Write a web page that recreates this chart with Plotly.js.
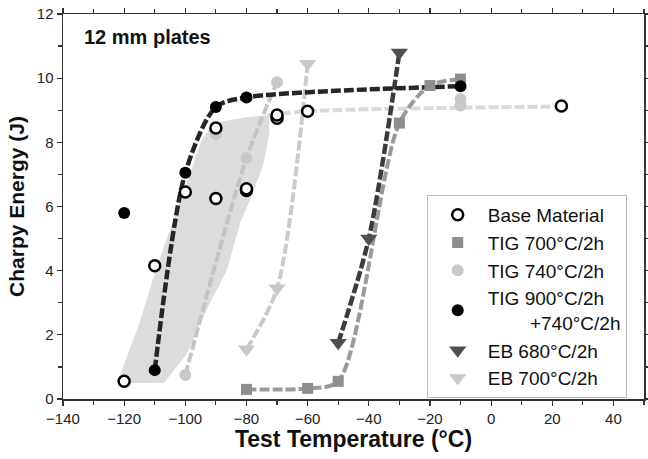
<!DOCTYPE html>
<html>
<head>
<meta charset="utf-8">
<script src="https://cdn.plot.ly/plotly-3.0.1.min.js"></script>
<style>html,body{margin:0;padding:0;background:#fff;}#chart{width:648px;height:459px;}</style>
</head>
<body>
<div id="chart"></div>
<script>
// ---- data ----
const baseX = [-120, -110, -100, -90, -90, -80, -80, -70, -70, -60, 23];
const baseY = [0.55, 4.15, 6.45, 8.45, 6.25, 6.5, 6.55, 8.75, 8.85, 8.97, 9.13];
const baseBandX = [-121, -107, -99.5, -93, -86.5, -82, -78, -74.5, -72.5, -72.5, -80, -91, -95, -99.6, -109.4, -114.9, -121.5];
const baseBandY = [0.5, 0.5, 1.4, 2.8, 4.0, 5.5, 6.4, 7.3, 8.3, 8.85, 8.78, 8.6, 8.0, 6.7, 4.1, 2.4, 0.7];
const baseShelfX = [-73, -60, 23];
const baseShelfY = [8.85, 8.97, 9.12];

const tig700X = [-80, -60, -50, -30, -20, -10];
const tig700Y = [0.3, 0.33, 0.55, 8.6, 9.77, 9.97];

const tig740X = [-100, -90, -80, -70, -10, -10];
const tig740Y = [0.75, 8.25, 7.5, 9.87, 9.35, 9.15];
const tig740LineX = [-100, -80, -70];
const tig740LineY = [0.75, 7.5, 9.87];

const tig900X = [-120, -110, -100, -90, -80, -10];
const tig900Y = [5.8, 0.9, 7.05, 9.1, 9.4, 9.75];
const tig900LineX = [-110, -100, -90, -80, -10];
const tig900LineY = [0.9, 7.05, 9.1, 9.4, 9.75];

const eb680X = [-50, -40, -30];
const eb680Y = [1.75, 5.0, 10.8];

const eb700X = [-80, -70, -60];
const eb700Y = [1.55, 3.45, 10.45];

const legendNames = ['Base Material', 'TIG 700°C/2h', 'TIG 740°C/2h',
  'TIG 900°C/2h<br>\u00a0\u00a0\u00a0\u00a0\u00a0\u00a0\u00a0\u00a0+740°C/2h', 'EB 680°C/2h', 'EB 700°C/2h'];

const xTickVals = [-140, -120, -100, -80, -60, -40, -20, 0, 20, 40];
const yTickVals = [0, 2, 4, 6, 8, 10, 12];

// ---- styles ----
const C = {base:'#000000', band:'#dcdcdc', tig700:'#8e8e8e', tig700L:'#9a9a9a',
  tig740:'#c9c9c9', tig740L:'#c4c4c4', tig900:'#000000', tig900L:'#262626',
  eb680:'#505050', eb680L:'#3c3c3c', eb700:'#c8c8c8', eb700L:'#cbcbcb'};
const DASH = '10px,3px';
function lineTrace(x, y, color, w) {
  return {x:x, y:y, mode:'lines', showlegend:false, hoverinfo:'skip',
    line:{color:color, width:w||4, dash:DASH, shape:'spline', smoothing:0.8}};
}

const lines = [
  {x:baseBandX, y:baseBandY, mode:'lines', fill:'toself', fillcolor:C.band,
   line:{width:0, color:C.band}, showlegend:false, hoverinfo:'skip'},
  lineTrace(baseShelfX, baseShelfY, '#dadada', 4),
  lineTrace(tig740LineX, tig740LineY, C.tig740L, 4),
  lineTrace(eb700X, eb700Y, C.eb700L, 4),
  lineTrace(tig700X, tig700Y, C.tig700L, 4),
  lineTrace(eb680X, eb680Y, C.eb680L, 4.5),
  lineTrace(tig900LineX, tig900LineY, C.tig900L, 4.5)
];
const markers = [
  {x:tig700X, y:tig700Y, mode:'markers', name:legendNames[1], legendrank:2,
   marker:{symbol:'square', size:11, color:C.tig700, line:{width:0}}},
  {x:tig740X, y:tig740Y, mode:'markers', name:legendNames[2], legendrank:3,
   marker:{symbol:'circle', size:12, color:C.tig740, line:{width:0}}},
  {x:eb680X, y:eb680Y, mode:'markers', name:legendNames[4], legendrank:5,
   marker:{symbol:'triangle-down', size:15, color:C.eb680, line:{width:0}}},
  {x:eb700X, y:eb700Y, mode:'markers', name:legendNames[5], legendrank:6,
   marker:{symbol:'triangle-down', size:15, color:C.eb700, line:{width:0}}},
  {x:baseX, y:baseY, mode:'markers', name:legendNames[0], legendrank:1,
   marker:{symbol:'circle', size:11, color:'#ffffff', line:{color:C.base, width:2.5}}},
  {x:tig900X, y:tig900Y, mode:'markers', name:legendNames[3], legendrank:4,
   marker:{symbol:'circle', size:12, color:C.tig900, line:{width:0}}}
];
const data = lines.concat(markers);

const axisCommon = {showgrid:false, zeroline:false, showline:true, linecolor:'#333', linewidth:1.5,
  mirror:'ticks', ticks:'outside', ticklen:5, tickwidth:1.2, tickcolor:'#333',
  tickfont:{family:'Liberation Sans, Arial, sans-serif', size:15, color:'#222'}};

const layout = {
  width:648, height:459,
  margin:{l:63, r:4, t:14, b:60},
  paper_bgcolor:'#ffffff', plot_bgcolor:'#ffffff',
  font:{family:'Liberation Sans, Arial, sans-serif', color:'#111'},
  xaxis:Object.assign({}, axisCommon, {range:[-140, 50], tickmode:'array', tickvals:xTickVals,
    minor:{dtick:10, ticks:'outside', ticklen:4, tickcolor:'#333'},
    title:{text:'<b>Test Temperature (°C)</b>', font:{size:23, color:'#111'}, standoff:4}}),
  yaxis:Object.assign({}, axisCommon, {range:[0, 12], tickmode:'array', tickvals:yTickVals,
    minor:{dtick:1, ticks:'outside', ticklen:4, tickcolor:'#333'},
    title:{text:'<b>Charpy Energy (J)</b>', font:{size:21, color:'#111'}, standoff:6}}),
  showlegend:true,
  legend:{x:0.626, y:0.53, xanchor:'left', yanchor:'top', bgcolor:'#ffffff',
    bordercolor:'#bbbbbb', borderwidth:1, font:{size:19, color:'#111'}, tracegroupgap:0,
    traceorder:'normal', itemwidth:50},
  annotations:[{xref:'paper', yref:'paper', x:0.032, y:0.94, xanchor:'left', yanchor:'middle',
    text:'<b>12 mm plates</b>', showarrow:false, font:{size:20, color:'#111'}}]
};

Plotly.newPlot('chart', data, layout, {displayModeBar:false, staticPlot:true});
</script>
</body>
</html>
